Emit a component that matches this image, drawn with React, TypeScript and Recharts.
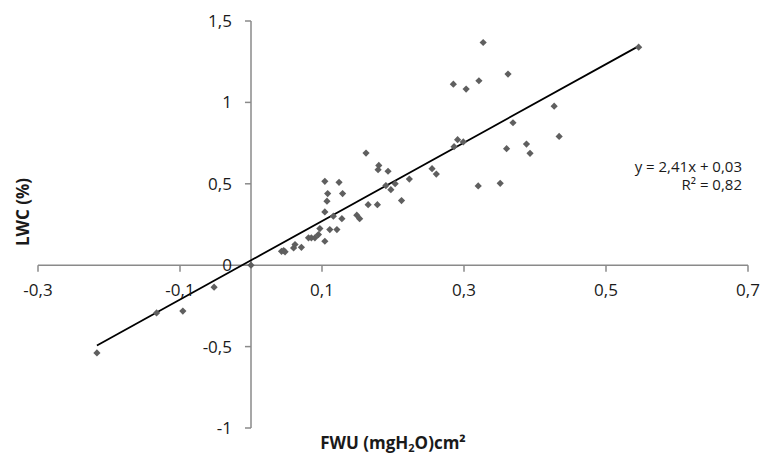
import React from "react";
import { ScatterChart, Scatter, XAxis, YAxis, ReferenceLine } from "recharts";

// FWU (x) and LWC (y) values
const fwuValues = [
  -0.217, -0.133, -0.096, -0.052, 0,
  0.043, 0.046, 0.048, 0.06, 0.062, 0.071, 0.081, 0.085, 0.09, 0.095,
  0.097, 0.104, 0.111, 0.121, 0.104, 0.107, 0.108, 0.104, 0.124, 0.129,
  0.116, 0.128, 0.149, 0.153, 0.162, 0.165, 0.178, 0.18, 0.179, 0.193,
  0.19, 0.197, 0.203, 0.212, 0.223, 0.255, 0.261, 0.285, 0.303, 0.321,
  0.327, 0.362, 0.427, 0.369, 0.434, 0.291, 0.299, 0.286, 0.36, 0.388,
  0.393, 0.32, 0.351, 0.546,
];
const lwcValues = [
  -0.539, -0.293, -0.282, -0.135, 0,
  0.085, 0.09, 0.082, 0.106, 0.127, 0.11, 0.168, 0.168, 0.168, 0.188,
  0.225, 0.147, 0.219, 0.219, 0.327, 0.393, 0.44, 0.515, 0.509, 0.44,
  0.301, 0.286, 0.307, 0.286, 0.689, 0.372, 0.372, 0.613, 0.587, 0.577,
  0.489, 0.464, 0.501, 0.397, 0.529, 0.593, 0.56, 1.112, 1.082, 1.133,
  1.368, 1.174, 0.977, 0.875, 0.791, 0.771, 0.757, 0.728, 0.716, 0.744,
  0.687, 0.487, 0.503, 1.339,
];

const xTicks = [-0.3, -0.1, 0.1, 0.3, 0.5, 0.7];
const xTickLabels = ["-0,3", "-0,1", "0,1", "0,3", "0,5", "0,7"];
const yTicks = [-1, -0.5, 0, 0.5, 1, 1.5];
const yTickLabels = ["-1", "-0,5", "0", "0,5", "1", "1,5"];

const trendSlope = 2.41;
const trendIntercept = 0.03;
const trendRange = [-0.217, 0.546];

const points = fwuValues.map((x, i) => ({ x, y: lwcValues[i] }));
const trendSegment = trendRange.map((x) => ({ x, y: trendSlope * x + trendIntercept }));

const FONT = "'Open Sans', 'Noto Sans', sans-serif";
const AXIS = "#8a8a8a";
const TEXT = "#1a1a1a";

const Diamond = (props: any) => {
  const { cx, cy } = props;
  const r = 3.6;
  return (
    <path
      d={`M${cx},${cy - r}L${cx + r},${cy}L${cx},${cy + r}L${cx - r},${cy}Z`}
      fill="#5f5f5f"
    />
  );
};

export default function App() {
  return (
    <div style={{ position: "absolute", left: 0, top: 0, width: 774, height: 456, background: "#fff" }}>
      <ScatterChart width={774} height={456} margin={{ top: 21, right: 26, bottom: 28, left: 38 }}>
        <XAxis type="number" dataKey="x" domain={[-0.3, 0.7]} hide allowDataOverflow />
        <YAxis type="number" dataKey="y" domain={[-1, 1.5]} hide allowDataOverflow />
        <ReferenceLine y={0} stroke={AXIS} strokeWidth={1.5} ifOverflow="visible" />
        <ReferenceLine x={0} stroke={AXIS} strokeWidth={1.5} ifOverflow="visible" />
        {xTicks.map((t, i) => (
          <ReferenceLine
            key={"xt" + i}
            stroke={AXIS}
            strokeWidth={1.5}
            ifOverflow="visible"
            segment={[{ x: t, y: 0 }, { x: t, y: -0.04 }]}
            label={{ value: xTickLabels[i], position: "bottom", offset: 12, fill: TEXT, fontSize: 17, fontFamily: FONT }}
          />
        ))}
        {yTicks.map((t, i) => (
          <ReferenceLine
            key={"yt" + i}
            stroke={AXIS}
            strokeWidth={1.5}
            ifOverflow="visible"
            segment={[{ x: 0, y: t }, { x: -0.0085, y: t }]}
            label={{ value: yTickLabels[i], position: "left", offset: 13, fill: TEXT, fontSize: 17, fontFamily: FONT }}
          />
        ))}
        <Scatter data={points} shape={<Diamond />} isAnimationActive={false} />
        <ReferenceLine
          segment={trendSegment}
          stroke="#000"
          strokeWidth={1.8}
          ifOverflow="visible"
        />
      </ScatterChart>
      <svg
        width={774}
        height={456}
        style={{ position: "absolute", left: 0, top: 0, pointerEvents: "none" }}
      >
        <text x={742} y={171.5} textAnchor="end" fontFamily={FONT} fontSize={15} fill={TEXT}>
          y = 2,41x + 0,03
        </text>
        <text x={742} y={190} textAnchor="end" fontFamily={FONT} fontSize={15} fill={TEXT}>
          R² = 0,82
        </text>
        <text x={393} y={449} textAnchor="middle" fontFamily={FONT} fontSize={17} fontWeight="bold" fill={TEXT}>
          FWU (mgH<tspan fontSize={11} dy={3}>2</tspan>
          <tspan dy={-3}>O)cm²</tspan>
        </text>
        <text
          x={0}
          y={0}
          transform="translate(29,212) rotate(-90)"
          textAnchor="middle"
          fontFamily={FONT}
          fontSize={17}
          fontWeight="bold"
          fill={TEXT}
        >
          LWC (%)
        </text>
      </svg>
    </div>
  );
}
